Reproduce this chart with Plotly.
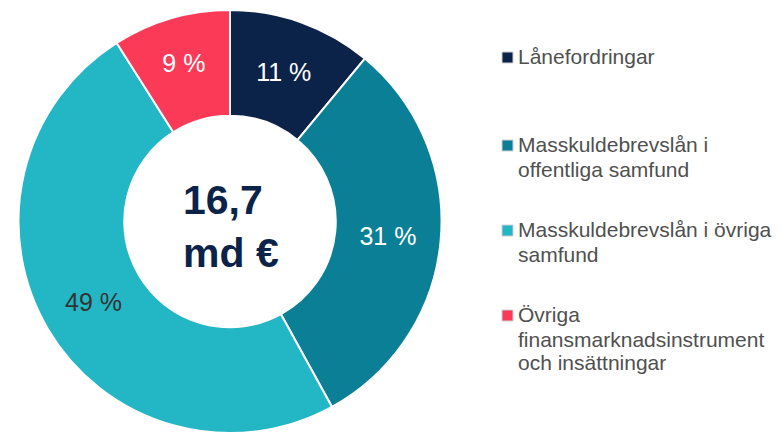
import plotly.graph_objects as go

# data
labels = [
    "Lånefordringar",
    "Masskuldebrevslån i offentliga samfund",
    "Masskuldebrevslån i övriga samfund",
    "Övriga finansmarknadsinstrument och insättningar",
]
legend_lines = [
    ["Lånefordringar"],
    ["Masskuldebrevslån i", "offentliga samfund"],
    ["Masskuldebrevslån i övriga", "samfund"],
    ["Övriga", "finansmarknadsinstrument", "och insättningar"],
]
shares = [11, 31, 49, 9]
colors = ["#0c2349", "#0a7f96", "#23b6c5", "#fb3a58"]
text_colors = ["white", "white", "#333333", "white"]
center_label = "16,7<br>md €"

# page body has an 8px margin, so the figure is shrunk and everything shifted
OFF = 8
W, H = 782 - OFF, 433 - OFF
FONT = "Liberation Sans, Arial, sans-serif"


def px(x):
    return (x - OFF) / W


def py(y):
    return (H - (y - OFF)) / H


fig = go.Figure()
fig.add_trace(
    go.Pie(
        labels=labels,
        values=shares,
        text=[f"{v} %" for v in shares],
        textinfo="text",
        textposition="inside",
        insidetextorientation="horizontal",
        textfont=dict(family=FONT, size=25, color=text_colors),
        marker=dict(colors=colors, line=dict(color="white", width=2)),
        hole=0.5,
        sort=False,
        direction="clockwise",
        rotation=0,
        domain=dict(x=[px(18), px(442)], y=[0, py(10)]),
        showlegend=False,
        hoverinfo="label+text",
    )
)

# center label
fig.add_annotation(
    x=px(231), y=py(226), xref="paper", yref="paper",
    xanchor="center", yanchor="middle", align="left",
    text=f"<b>{center_label}</b>", showarrow=False,
    font=dict(family=FONT, size=41, color="#0c2349"),
)

# legend built by hand to get the wide spacing
baselines = [[64], [152, 177], [237, 262], [322, 347, 370]]
for lines, col, bl in zip(legend_lines, colors, baselines):
    fig.add_shape(
        type="rect", xref="paper", yref="paper",
        x0=px(502), x1=px(513), y0=py(bl[0] - 1), y1=py(bl[0] - 12),
        fillcolor=col, line=dict(color="#d0d0d0", width=1),
    )
    for line, b in zip(lines, bl):
        fig.add_annotation(
            x=px(516), y=py(b - 7.5), xref="paper", yref="paper",
            xanchor="left", yanchor="middle", align="left",
            text=line, showarrow=False,
            font=dict(family=FONT, size=21, color="#505050"),
        )

fig.update_layout(
    width=W, height=H,
    margin=dict(l=0, r=0, t=0, b=0),
    paper_bgcolor="white",
    plot_bgcolor="white",
)

fig.write_html("out.html")
